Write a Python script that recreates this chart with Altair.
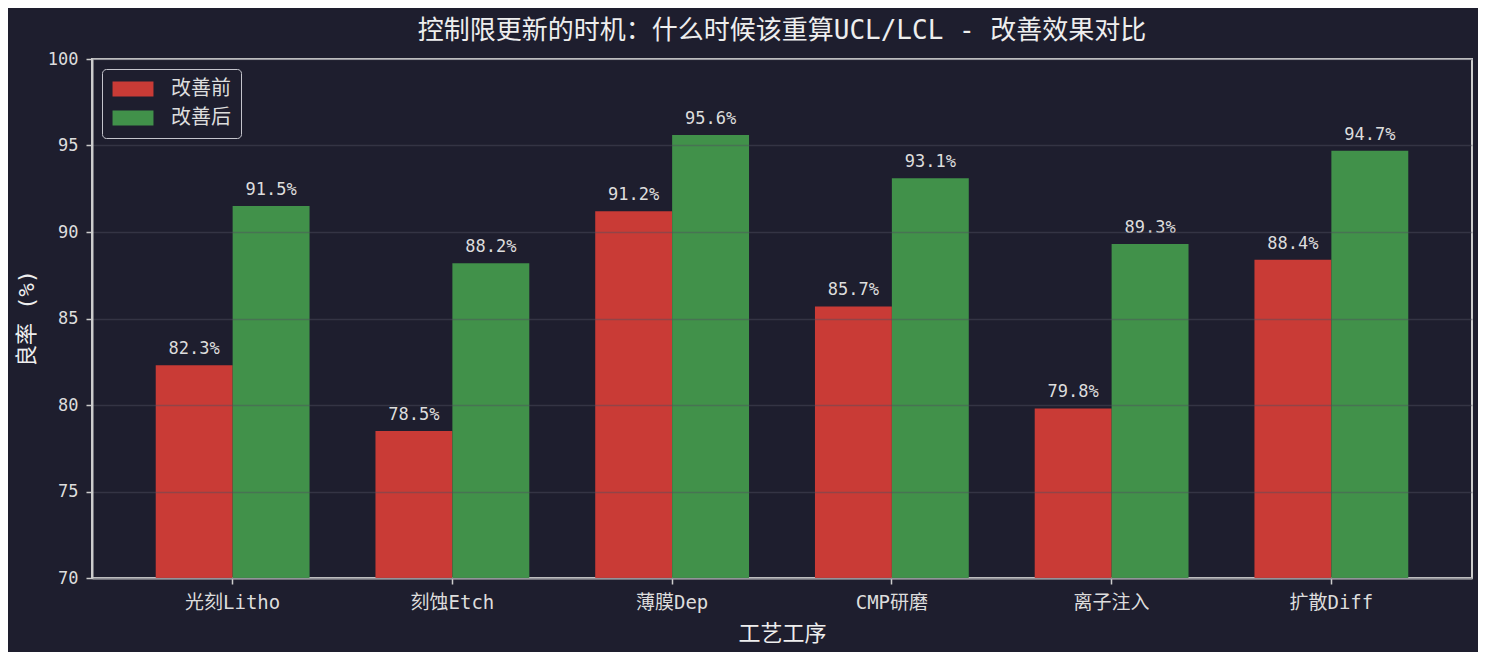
import altair as alt
import pandas as pd

categories = ["光刻Litho", "刻蚀Etch", "薄膜Dep", "CMP研磨", "离子注入", "扩散Diff"]
series = ["改善前", "改善后"]
before = [82.3, 78.5, 91.2, 85.7, 79.8, 88.4]
after = [91.5, 88.2, 95.6, 93.1, 89.3, 94.7]
y_ticks = [70, 75, 80, 85, 90, 95, 100]

rows = []
for c, b, a in zip(categories, before, after):
    rows.append({"工序": c, "组": series[0], "良率": b})
    rows.append({"工序": c, "组": series[1], "良率": a})
df = pd.DataFrame(rows)
df["标签"] = df["良率"].map(lambda v: f"{v:.1f}%")

BG = "#1e1e2e"
FONT = "'DejaVu Sans Mono', 'Noto Sans CJK SC', sans-serif"
TXT = "#dddddd"

x_enc = alt.X(
    "工序:N",
    sort=categories,
    scale=alt.Scale(paddingInner=0.3, paddingOuter=0.29),
    axis=alt.Axis(
        title="工艺工序",
        labelAngle=0,
        labelFontSize=19,
        labelPadding=9,
        tickSize=6,
        titleFontSize=22,
        titleY=55,
        titleBaseline="middle",
        grid=False,
    ),
)
xo_enc = alt.XOffset("组:N", sort=series)
y_enc = alt.Y(
    "良率:Q",
    scale=alt.Scale(domain=[70, 100], zero=False, nice=False),
    axis=alt.Axis(
        title="良率 (%)",
        values=y_ticks,
        labelFontSize=17,
        labelPadding=8,
        tickSize=6,
        titleFontSize=22,
        titleX=-66,
        titleY=259,
        titleAngle=-90,
        titleAlign="center",
        titleBaseline="middle",
        grid=True,
        gridColor="#50505f",
        gridOpacity=0.45,
        gridWidth=1.5,
        zindex=1,
    ),
)

bars = alt.Chart(df).mark_bar(opacity=1).encode(
    x=x_enc,
    xOffset=xo_enc,
    y=y_enc,
    y2=alt.datum(70),
    color=alt.Color(
        "组:N",
        sort=series,
        scale=alt.Scale(domain=series, range=["#c93b36", "#41914a"]),
        legend=alt.Legend(
            title=None,
            orient="top-left",
            offset=10,
            labelFontSize=20,
            labelColor=TXT,
            labelOffset=28,
            symbolType="M-2.73,-1H2.73V1H-2.73Z",
            symbolSize=225,
            symbolOffset=11,
            symbolStrokeWidth=0,
            symbolOpacity=1,
            rowPadding=9,
            padding=10,
            strokeColor="#c4c4cc",
            fillColor=BG,
            cornerRadius=4,
        ),
    ),
)

labels = alt.Chart(df).mark_text(
    baseline="alphabetic", dy=-11, fontSize=17, color=TXT, font=FONT
).encode(
    x=alt.X("工序:N", sort=categories),
    xOffset=xo_enc,
    y=alt.Y("良率:Q"),
    text="标签:N",
)

chart = (
    alt.layer(bars, labels)
    .properties(
        width=1380,
        height=519,
        background=BG,
        padding={"left": 84, "top": 51, "right": 6, "bottom": 74},
        autosize=alt.AutoSizeParams(type="none"),
        title=alt.TitleParams(
            "控制限更新的时机：什么时候该重算UCL/LCL - 改善效果对比",
            fontSize=26,
            color="#eeeeee",
            font=FONT,
            fontWeight="normal",
            anchor="middle",
            offset=6,
        ),
    )
    .configure_view(stroke="#cccccc", strokeWidth=2, fill=BG)
    .configure_axis(
        domainColor="#cccccc",
        domainWidth=2,
        tickColor="#cccccc",
        tickWidth=1.5,
        labelColor=TXT,
        titleColor="#eeeeee",
        labelFont=FONT,
        titleFont=FONT,
        titleFontWeight="normal",
    )
    .configure_legend(labelFont=FONT)
)

chart.save("out.html", embed_options={"renderer": "svg", "actions": False})
